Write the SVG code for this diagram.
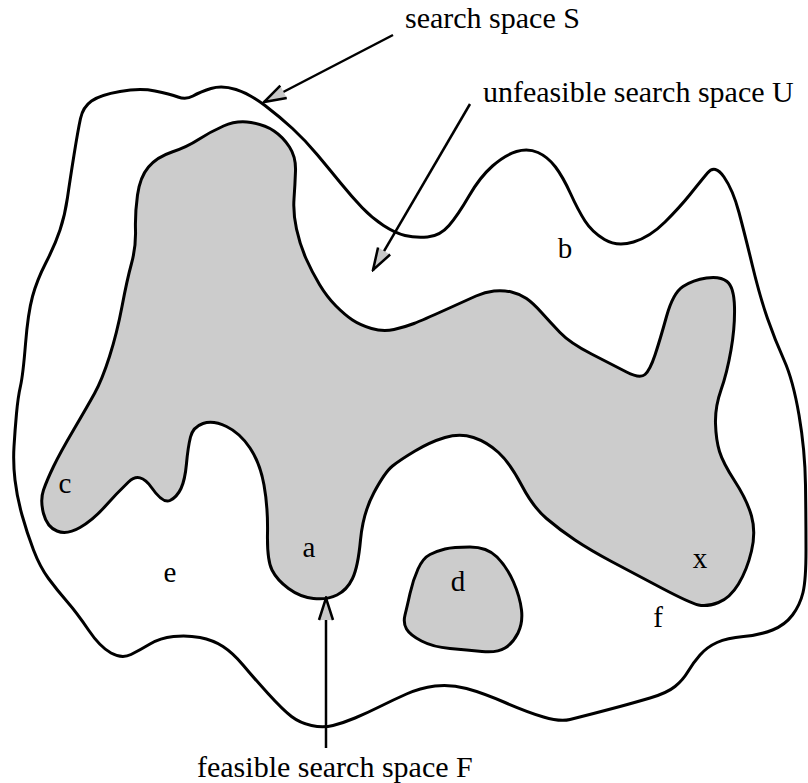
<svg xmlns="http://www.w3.org/2000/svg" width="808" height="783" viewBox="0 0 808 783">
<style>
.blob{stroke:#000;stroke-width:3;stroke-linejoin:round}
.out{fill:#fff}
.feas{fill:#cccccc}
.arr{stroke:#000;stroke-width:2.5;fill:none}
text{font-family:"Liberation Serif","Times New Roman",serif;fill:#000}
.big{font-size:30px}
.lbl{font-size:29px;text-anchor:middle}
</style>
<defs>
<marker id="head" markerUnits="userSpaceOnUse" viewBox="-26 -10 28 20" markerWidth="28" markerHeight="20" refX="0" refY="0" orient="auto">
<path d="M0,0 L-22,-7 L-22,7 Z" fill="#c8c8c8"/>
<path d="M-22,-7 L0,0 L-22,7" fill="none" stroke="#000" stroke-width="2.5" stroke-linejoin="miter"/>
</marker>
</defs>
<rect width="808" height="783" fill="#fff"/>
<g id="search-space-S">
<path class="blob out" d="M80.5,118.5 Q83,107 91.5,101 Q100,95 120,91.5 Q140,88 155,91 Q170,94 178,97 Q186,100 193,96 Q200,92 211,88.5 Q222,85 236,89.5 Q250,94 265,105.5 Q280,117 292.5,128.5 Q305,140 317.5,155 Q330,170 341,183.5 Q352,197 362,207.5 Q372,218 383.5,225.5 Q395,233 405,235.5 Q415,238 427.5,237 Q440,236 449,225.5 Q458,215 469,196 Q480,177 492.5,166 Q505,155 516.5,151.5 Q528,148 538,152.5 Q548,157 555.5,167 Q563,177 570.5,193.5 Q578,210 585,221 Q592,232 604.5,239.5 Q617,247 633.5,242 Q650,237 665,222 Q680,207 690,194.5 Q700,182 707.5,173 Q715,164 724,177 Q733,190 739,212.5 Q745,235 752.5,266 Q760,297 767.5,318.5 Q775,340 784,360 Q793,380 799,415 Q805,450 805.5,485 Q806,520 806,550 Q806,580 803,592.5 Q800,605 792.5,615 Q785,625 772.5,630 Q760,635 743.5,636.5 Q727,638 717,642.5 Q707,647 700,655 Q693,663 688,671.5 Q683,680 675,686.5 Q667,693 650,698 Q633,703 620,706.5 Q607,710 593.5,713.5 Q580,717 570,719.5 Q560,722 543.5,717 Q527,712 505,702.5 Q483,693 466.5,688.5 Q450,684 435,686 Q420,688 406.5,694 Q393,700 380,706.5 Q367,713 355,718 Q343,723 333,725.5 Q323,728 311.5,725.5 Q300,723 291.5,716.5 Q283,710 268,693.5 Q253,677 243,665 Q233,653 223,646.5 Q213,640 200,637.5 Q187,635 173.5,636.5 Q160,638 150,644 Q140,650 131,654.5 Q122,659 111,653 Q100,647 88.5,630 Q77,613 67,601.5 Q57,590 48.5,578.5 Q40,567 33.5,550 Q27,533 22,515 Q17,497 15,480 Q13,463 14,446.5 Q15,430 16.5,413.5 Q18,397 20.5,386 Q23,375 25.5,344 Q28,313 32.5,296.5 Q37,280 46,262.5 Q55,245 60,230 Q65,215 67.5,197.5 Q70,180 74,155 Q78,130 80.5,118.5 Z"/>
</g>
<g id="feasible-F">
<path class="blob feas" d="M223.5,126 Q237,120 251,122.5 Q265,125 274,131 Q283,137 289.5,147 Q296,157 295.5,171 Q295,185 294,199 Q293,213 296.5,229 Q300,245 306,258.5 Q312,272 319.5,284.5 Q327,297 336,306 Q345,315 352.5,320 Q360,325 371.5,328.5 Q383,332 394,329.5 Q405,327 414,323.5 Q423,320 445,310 Q467,300 476,296 Q485,292 494,291 Q503,290 511.5,292 Q520,294 526.5,298.5 Q533,303 541.5,312.5 Q550,322 560,332.5 Q570,343 591.5,354 Q613,365 626.5,372 Q640,379 645,374.5 Q650,370 655,355 Q660,340 666.5,316.5 Q673,293 683,286.5 Q693,280 706.5,278 Q720,276 727,281.5 Q734,287 734.5,307 Q735,327 731,350 Q727,373 721,390 Q715,407 715.5,423.5 Q716,440 719.5,451.5 Q723,463 735,481.5 Q747,500 751.5,516 Q756,532 751.5,551 Q747,570 738.5,584 Q730,598 718.5,602.5 Q707,607 698.5,605 Q690,603 661.5,588 Q633,573 611.5,561.5 Q590,550 575,540 Q560,530 546.5,518.5 Q533,507 521.5,485 Q510,463 498.5,452.5 Q487,442 473.5,437.5 Q460,433 445,437.5 Q430,442 415,451 Q400,460 392.5,466 Q385,472 374,492.5 Q363,513 360.5,540 Q358,567 352.5,578.5 Q347,590 337,595 Q327,600 313.5,598.5 Q300,597 288.5,588.5 Q277,580 272,570 Q267,560 267.5,533.5 Q268,507 264,485 Q260,463 250,448 Q240,433 226.5,426.5 Q213,420 203,423.5 Q193,427 190.5,437 Q188,447 186.5,463.5 Q185,480 181,488.5 Q177,497 170,500.5 Q163,504 151.5,487.5 Q140,471 128.5,482 Q117,493 105,506.5 Q93,520 80,527.5 Q67,535 57,531 Q47,527 43.5,513.5 Q40,500 43.5,490 Q47,480 53.5,466.5 Q60,453 73.5,430 Q87,407 94.5,393.5 Q102,380 109.5,356.5 Q117,333 122,306.5 Q127,280 131.5,263.5 Q136,247 135.5,230 Q135,213 137.5,195 Q140,177 148.5,167 Q157,157 172,152 Q187,147 198.5,139.5 Q210,132 223.5,126 Z"/>
</g>
<g id="feasible-d">
<path class="blob feas" d="M430,554.5 Q437,551 445,549 Q453,547 470,547 Q487,547 497,557 Q507,567 513.5,582 Q520,597 521.5,610 Q523,623 518,633 Q513,643 505,648 Q497,653 482,651.5 Q467,650 450,648.5 Q433,647 421.5,641 Q410,635 406.5,629 Q403,623 405,615 Q407,607 410,593.5 Q413,580 418,569 Q423,558 430,554.5 Z"/>
</g>
<g id="connectors">
<line class="arr" x1="393" y1="35" x2="264" y2="102" marker-end="url(#head)"/>
<line class="arr" x1="470" y1="104" x2="373" y2="270" marker-end="url(#head)"/>
<line class="arr" x1="326" y1="748" x2="326" y2="598" marker-end="url(#head)"/>
</g>
<g id="titles">
<text class="big" x="405" y="28">search space S</text>
<text class="big" x="483" y="102">unfeasible search space U</text>
<text class="big" x="197" y="777">feasible search space F</text>
</g>
<g id="labels">
<text class="lbl" x="309" y="557">a</text>
<text class="lbl" x="565" y="258">b</text>
<text class="lbl" x="65" y="493">c</text>
<text class="lbl" x="458" y="591">d</text>
<text class="lbl" x="170" y="582">e</text>
<text class="lbl" x="658" y="627">f</text>
<text class="lbl" x="700" y="568">x</text>
</g>
</svg>
